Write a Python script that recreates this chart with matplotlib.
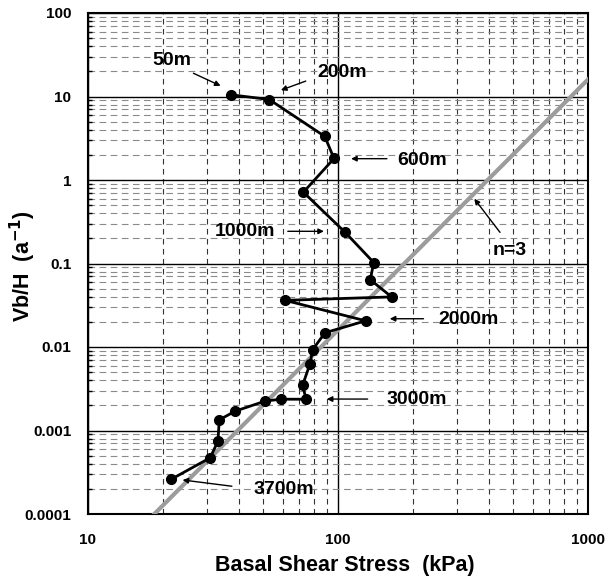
import numpy as np
import matplotlib.pyplot as plt
from matplotlib.ticker import LogLocator, NullFormatter, FixedLocator, FixedFormatter

plt.rcParams["font.family"] = ["Liberation Sans", "DejaVu Sans"]
plt.rcParams["font.weight"] = "bold"

# basal shear stress (kPa) and Vb/H (1/a), from top of glacier downwards
stress = [37.2, 53.1, 88.5, 96.4, 72.7, 106.7, 139.0, 134.6, 163.8, 61.4, 129.0,
          88.7, 79.2, 77.3, 72.2, 74.5, 59.0, 51.1, 38.7, 33.5, 33.1, 30.8, 21.5]
vb_h = [10.5, 9.2, 3.33, 1.81, 0.714, 0.237, 0.1026, 0.064, 0.0398, 0.0362, 0.0206,
        0.0148, 0.0093, 0.0063, 0.0035, 0.00237, 0.00237, 0.00225, 0.0017, 0.00134,
        0.000745, 0.000471, 0.00026]

# n=3 flow-law line
flow_n = 3
flow_coef = 1.6e-8
flow_x = [18.4, 1000]

# labels: text, text position, arrow tail, arrow head
labels = ["50m", "200m", "600m", "1000m", "n=3", "2000m", "3000m", "3700m"]
label_xy = [(21.7, 27.3), (103.5, 19.2), (217.8, 1.73), (42.5, 0.243),
            (487, 0.144), (333.5, 0.0211), (206.4, 0.00233), (60.6, 0.000194)]
arrow_tail = [(25.8, 19.6), (76.1, 15.7), (161, 1.8), (61.4, 0.243),
              (451.6, 0.222), (225.5, 0.0218), (134.8, 0.00238), (38.6, 0.000213)]
arrow_head = [(34.7, 13.0), (57.7, 11.6), (110, 1.8), (90.1, 0.243),
              (345.5, 0.634), (157, 0.0218), (87.9, 0.00238), (23.3, 0.000258)]

fig = plt.figure(figsize=(6.05, 5.77), dpi=100)
ax = fig.add_axes([88 / 605, 1 - 514 / 577, 500 / 605, 501 / 577])
ax.set_xscale("log")
ax.set_yscale("log")
ax.set_xlim(10, 1000)
ax.set_ylim(1e-4, 100)

# grid
ax.xaxis.set_minor_locator(LogLocator(base=10, subs=np.arange(2, 10)))
ax.yaxis.set_minor_locator(LogLocator(base=10, subs=np.arange(2, 10), numticks=20))
ax.xaxis.set_minor_formatter(NullFormatter())
ax.yaxis.set_minor_formatter(NullFormatter())
ax.xaxis.set_major_locator(FixedLocator([10, 100, 1000]))
ax.xaxis.set_major_formatter(FixedFormatter(["10", "100", "1000"]))
ax.yaxis.set_major_locator(FixedLocator([1e-4, 1e-3, 1e-2, 0.1, 1, 10, 100]))
ax.yaxis.set_major_formatter(FixedFormatter(["0.0001", "0.001", "0.01", "0.1", "1", "10", "100"]))

ax.grid(True, which="major", color="black", linewidth=1.0, linestyle="-")
ax.grid(True, which="minor", axis="x", color="#333333", linewidth=0.8, linestyle=(0, (5, 4)))
ax.grid(True, which="minor", axis="y", color="#8a8a8a", linewidth=0.8, linestyle=(0, (6, 4)))
ax.set_axisbelow(True)

ax.tick_params(which="both", direction="in", top=False, right=False)
ax.tick_params(axis="y", which="major", length=0, pad=12, labelsize=11)
ax.tick_params(axis="y", which="minor", length=3, width=1)
ax.tick_params(axis="x", which="both", length=0, pad=14, labelsize=11)
for lab in ax.get_xticklabels() + ax.get_yticklabels():
    lab.set_fontweight("bold")

for sp in ax.spines.values():
    sp.set_linewidth(1.5)

# n=3 line
fx = np.array(flow_x, dtype=float)
ax.plot(fx, flow_coef * fx ** flow_n, color="#9c9c9c", linewidth=3, zorder=3)

# data
ax.plot(stress, vb_h, color="black", linewidth=2, marker="o", markersize=7, zorder=4)

for txt, xy, tail, head in zip(labels, label_xy, arrow_tail, arrow_head):
    ax.text(xy[0], xy[1], txt, ha="center", va="center", fontsize=14, fontweight="bold", zorder=5)
    ax.annotate("", xy=head, xytext=tail,
                arrowprops=dict(arrowstyle="-|>", color="black", lw=1.0, mutation_scale=8),
                zorder=5)

ax.set_xlabel("Basal Shear Stress  (kPa)", fontsize=15.5, fontweight="bold")
ax.set_ylabel("Vb/H  (a$^{\\mathbf{-1}}$)", fontsize=15.5, fontweight="bold")
ax.xaxis.set_label_coords(0.514, -0.102)
ax.yaxis.set_label_coords(-0.13, 0.495)
ax.xaxis.label.set_va("center")
ax.yaxis.label.set_va("center")

fig.savefig("out.png", dpi=100)
